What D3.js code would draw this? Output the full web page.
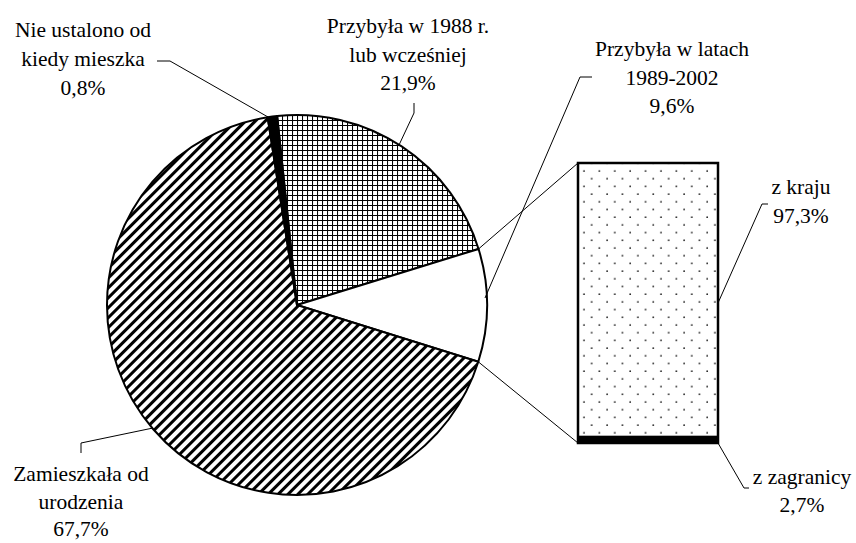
<!DOCTYPE html>
<html>
<head>
<meta charset="utf-8">
<script src="https://cdn.jsdelivr.net/npm/d3@7"></script>
<style>
  body { margin: 0; background: #fff; }
</style>
</head>
<body>
<script>
// pie slices, clockwise from the top
const pieNames = ["Przybyła w 1988 r. lub wcześniej", "Przybyła w latach 1989-2002", "Zamieszkała od urodzenia", "Nie ustalono od kiedy mieszka"];
const pieValues = [21.9, 9.6, 67.7, 0.8];
const pieFills = ["url(#grid)", "#fff", "url(#hatch)", "#000"];

// breakdown of 1989-2002 column
const barNames = ["z zagranicy", "z kraju"];
const barValues = [2.7, 97.3];
const barFills = ["#000", "url(#dots)"];

// label text lines
const labelLines = [
  ["Przybyła w 1988 r.", "lub wcześniej", "21,9%"],
  ["Przybyła w latach", "1989-2002", "9,6%"],
  ["Zamieszkała od", "urodzenia", "67,7%"],
  ["Nie ustalono od", "kiedy mieszka", "0,8%"],
  ["z kraju", "97,3%"],
  ["z zagranicy", "2,7%"]
];

const W = 856, H = 543;
const svg = d3.select("body").append("svg").attr("width", W).attr("height", H);

const defs = svg.append("defs");
const grid = defs.append("pattern").attr("id", "grid").attr("patternUnits", "userSpaceOnUse")
  .attr("width", 5).attr("height", 5);
grid.append("rect").attr("width", 5).attr("height", 5).attr("fill", "#fff");
grid.append("path").attr("d", "M0,0.5H5M0.5,0V5").attr("stroke", "#000").attr("stroke-width", 1.1);

const hatch = defs.append("pattern").attr("id", "hatch").attr("patternUnits", "userSpaceOnUse")
  .attr("width", 7).attr("height", 7).attr("patternTransform", "rotate(45)");
hatch.append("rect").attr("width", 7).attr("height", 7).attr("fill", "#fff");
hatch.append("rect").attr("width", 3).attr("height", 7).attr("fill", "#000");

const dots = defs.append("pattern").attr("id", "dots").attr("patternUnits", "userSpaceOnUse")
  .attr("x", 580).attr("y", 167).attr("width", 15.4).attr("height", 15.4);
dots.append("rect").attr("width", 15.4).attr("height", 15.4).attr("fill", "#fff");
dots.append("circle").attr("cx", 4).attr("cy", 4).attr("r", 0.9).attr("fill", "#222");
dots.append("circle").attr("cx", 11.7).attr("cy", 11.7).attr("r", 0.9).attr("fill", "#222");

// pie
const cx = 297, cy = 305, R = 190;
const a0 = -6 * Math.PI / 180;
const pie = d3.pie().sort(null).startAngle(a0).endAngle(a0 + 2 * Math.PI);
const arcs = pie(pieValues);
const arc = d3.arc().innerRadius(0).outerRadius(R);

const gPie = svg.append("g").attr("transform", `translate(${cx},${cy})`);
gPie.selectAll("path").data(arcs).join("path")
  .attr("d", arc)
  .attr("fill", (d, i) => pieFills[i])
  .attr("stroke", "#000").attr("stroke-width", 2).attr("stroke-linejoin", "round");

// bar
const bx = 578, bw = 140;
const y = d3.scaleLinear().domain([0, 100]).range([443, 163]);
const stack = d3.cumsum(barValues);
const gBar = svg.append("g");
gBar.selectAll("rect").data(barValues).join("rect")
  .attr("x", bx).attr("width", bw)
  .attr("y", (d, i) => y(stack[i]))
  .attr("height", d => y(0) - y(d))
  .attr("fill", (d, i) => barFills[i]);
gBar.append("rect").attr("x", bx).attr("y", y(100)).attr("width", bw).attr("height", y(0) - y(100))
  .attr("fill", "none").attr("stroke", "#000").attr("stroke-width", 2.5);

// connectors from the 1989-2002 slice to the bar
const pt = a => [cx + R * Math.sin(a), cy - R * Math.cos(a)];
const sl = arcs[1];
const line = d3.line();
svg.append("path").attr("d", line([pt(sl.startAngle), [bx, y(100)]]))
  .attr("fill", "none").attr("stroke", "#000").attr("stroke-width", 1);
svg.append("path").attr("d", line([pt(sl.endAngle), [bx, y(0)]]))
  .attr("fill", "none").attr("stroke", "#000").attr("stroke-width", 1);

// leader lines
const leaders = [
  [[399, 145], [414, 113], [414, 103]],
  [[485, 298], [580, 77], [592, 77]],
  [[153, 428], [81, 443], [81, 453]],
  [[268, 117], [170, 61], [157, 61]],
  [[718, y(50)], [762, 204], [768, 204]],
  [[718, 443], [744, 488], [749, 488]]
];
svg.append("g").selectAll("path").data(leaders).join("path")
  .attr("d", d => line(d))
  .attr("fill", "none").attr("stroke", "#000").attr("stroke-width", 1);

// labels: [center x, first baseline, line step]
const labelPos = [[408, 33, 28.5], [672, 56, 28.5], [81, 481, 27.5], [83, 37, 29], [801, 194, 28.5], [802, 484, 28]];
const gLab = svg.append("g")
  .attr("text-anchor", "middle")
  .attr("font-family", "'Liberation Serif', 'Times New Roman', serif")
  .attr("font-size", 21.5)
  .attr("fill", "#000");
labelLines.forEach((lines, i) => {
  const [x, y0, step] = labelPos[i];
  const t = gLab.append("text");
  lines.forEach((s, j) => t.append("tspan").attr("x", x).attr("y", y0 + j * step).text(s));
});
</script>
</body>
</html>
